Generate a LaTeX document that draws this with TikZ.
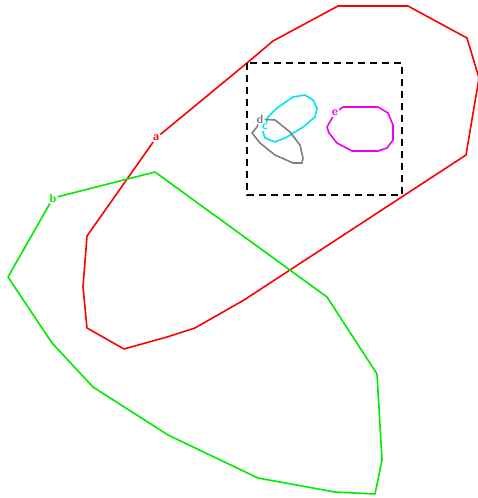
\documentclass[tikz,border=0pt]{standalone}
\usepackage{tikz}
\usetikzlibrary{positioning}
\definecolor{RegA}{RGB}{255,0,0}
\definecolor{RegB}{RGB}{0,235,0}
\definecolor{RegC}{RGB}{0,230,240}
\definecolor{RegD}{RGB}{128,128,128}
\definecolor{RegE}{RGB}{240,0,240}

\begin{document}
\begin{tikzpicture}[x=1pt, y=-1pt,
    lbl/.style={font=\sffamily\bfseries\fontsize{12}{12}\selectfont, inner sep=1pt},
    region/.style={line width=1.6pt, line join=round},
    window/.style={line width=1.6pt, dash pattern=on 7pt off 5pt}
  ]
    \useasboundingbox (0,0) rectangle (478,498);
    % labels
    \node[lbl, text=RegA] (la) at (156,138) {a};
    \node[lbl, text=RegB] (lb) at (53,198) {b};
    \node[lbl, text=RegC] (lc) at (265,127) {c};
    \node[lbl, text=RegD] (ld) at (260,119) {d};
    \node[lbl, text=RegE] (le) at (335,113) {e};
    % regions
    \draw[region, RegA] (la) -- (247,63) -- (273,41) -- (338,6) -- (408,6)
      -- (467,38) -- (479,78) -- (466,155) -- (244,300) -- (195,328) -- (167,337)
      -- (124,349) -- (87,328) -- (83,287) -- (87,236) -- (la);
    \draw[region, RegB] (lb) -- (155,172) -- (327,297) -- (377,374) -- (382,460)
      -- (375,494) -- (335,492) -- (258,478) -- (168,435) -- (93,387) -- (52,343)
      -- (8,277) -- (lb);
    \draw[region, RegC] (lc) -- (268,117) -- (277,108) -- (293,97) -- (305,95)
      -- (313,100) -- (317,108) -- (315,117) -- (303,127) -- (287,137) -- (275,142)
      -- (265,138) -- (263,132) -- (lc);
    \draw[region, RegD] (ld) -- (275,120) -- (290,132) -- (300,145) -- (303,158)
      -- (302,163) -- (293,163) -- (275,155) -- (260,143) -- (252,133) -- (257,127)
      -- (ld);
    \draw[region, RegE] (le) -- (343,107) -- (378,107) -- (388,113) -- (393,125)
      -- (393,140) -- (387,148) -- (378,151) -- (352,151) -- (337,143) -- (329,133)
      -- (327,127) -- (le);
    % window
    \draw[window] (247,63) rectangle (402,195);
\end{tikzpicture}
\end{document}
